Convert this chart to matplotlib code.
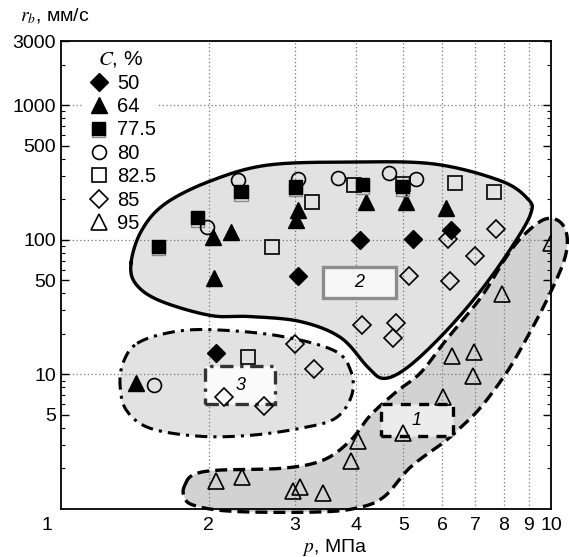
import numpy as np
import matplotlib
matplotlib.use("Agg")
import matplotlib.pyplot as plt
import matplotlib.patheffects as pe
from matplotlib.patches import Polygon, Rectangle
from matplotlib.transforms import ScaledTranslation

plt.rcParams['font.family'] = ['Liberation Sans', 'DejaVu Sans']
plt.rcParams['mathtext.fontset'] = 'stix'

# ---------------- data (p, MPa ; r_b, mm/s) ----------------
p_50 = [3.04, 4.07, 5.22, 6.25, 2.07]
r_50 = [54, 100, 101, 119, 14.3]

p_64 = [2.05, 2.04, 2.22, 3.04, 3.02, 4.20, 5.05, 6.10, 1.42]
r_64 = [52, 105, 115, 167, 141, 191, 191, 173, 8.7]

p_775 = [2.33, 3.01, 4.13, 1.90, 1.58, 4.98]
r_775 = [227, 247, 256, 146, 89, 248]

p_80 = [2.30, 3.05, 3.67, 4.66, 5.30, 1.99, 1.55]
r_80 = [278, 283, 288, 313, 283, 125, 8.4]

p_825 = [3.26, 2.70, 3.96, 6.36, 7.64, 2.41, 4.98]
r_825 = [191, 89, 256, 264, 227, 13.4, 262]

p_85 = [6.16, 7.72, 6.99, 5.12, 6.22, 4.11, 4.82, 4.75, 3.01, 3.28, 2.15, 2.60]
r_85 = [101, 121, 76, 54, 49.7, 23.1, 24.3, 18.5, 16.7, 10.9, 6.8, 5.8]

p_95 = [10.0, 7.94, 6.27, 6.96, 6.93, 6.02, 5.0, 4.03, 3.90, 2.07, 2.34, 2.98, 3.08, 3.42]
r_95 = [95, 39.8, 13.6, 14.6, 9.7, 6.8, 3.7, 3.2, 2.27, 1.61, 1.73, 1.36, 1.46, 1.31]

legend_labels = ['50', '64', '77.5', '80', '82.5', '85', '95']

# region outlines (control points, smoothed)
reg2_p = [1.39, 1.46, 1.63, 2.02, 2.64, 3.90, 5.77, 7.90, 8.97, 9.10, 8.40, 7.19,
          6.04, 5.10, 4.56, 4.23, 3.72, 3.08, 2.44, 2.02, 1.59, 1.42]
reg2_r = [67.6, 117, 185, 274, 359, 378, 366, 274, 201, 158, 93.4, 41.9,
          20.1, 11.3, 9.34, 11.3, 18.8, 24.7, 26.9, 27.4, 35.3, 47.2]

reg3_p = [1.43, 1.67, 2.02, 2.77, 3.60, 3.90, 3.92, 3.63, 3.08, 2.44, 1.92, 1.52, 1.36, 1.32, 1.34]
reg3_r = [17.0, 20.5, 21.5, 19.4, 15.1, 10.7, 7.0, 4.72, 3.98, 3.53, 3.47, 3.98, 5.41, 8.29, 12.3]

reg1_p = [1.79, 1.86, 2.08, 2.84, 3.43, 3.90, 4.28, 4.82, 5.42, 6.10, 7.19, 8.01, 8.68, 9.54,
          10.14, 10.6, 10.8, 10.6, 9.86, 9.10, 8.17, 7.19, 6.45, 6.04, 5.17, 4.56, 4.03, 3.34,
          2.25, 1.86, 1.78]
reg1_r = [1.51, 1.79, 1.94, 2.01, 2.31, 3.24, 4.97, 7.36, 10.3, 17.9, 37.2, 69.9, 103, 138,
          143, 127, 98.4, 67.6, 37.2, 21.2, 10.7, 5.7, 3.85, 3.13, 2.05, 1.23, 1.02, 0.95,
          0.96, 1.07, 1.27]

# label boxes: (p_min, p_max, r_min, r_max, text)
box1 = (4.49, 6.30, 3.47, 6.0, '1')
box2 = (3.42, 4.82, 37.2, 63.0, '2')
box3 = (1.97, 2.74, 6.0, 11.5, '3')

x_ticks = [1, 2, 3, 4, 5, 6, 7, 8, 9, 10]
y_ticks = [5, 10, 50, 100, 500, 1000, 3000]
y_grid = [10, 100, 1000]


def smooth_closed(xs, ys, n=24):
    P = np.column_stack([np.log10(xs), np.log10(ys)])
    N = len(P)
    t = np.linspace(0, 1, n, endpoint=False)[:, None]
    out = []
    for i in range(N):
        p0, p1, p2, p3 = P[i - 1], P[i], P[(i + 1) % N], P[(i + 2) % N]
        pts = 0.5 * ((2 * p1) + (-p0 + p2) * t + (2 * p0 - 5 * p1 + 4 * p2 - p3) * t ** 2
                     + (-p0 + 3 * p1 - 3 * p2 + p3) * t ** 3)
        out.append(pts)
    out = np.vstack(out + [out[0][:1]])
    return 10 ** out[:, 0], 10 ** out[:, 1]


fig = plt.figure(figsize=(5.69, 5.57), dpi=100)
ax = fig.add_axes([61 / 569, 1 - 509 / 557, 490 / 569, 468 / 557])
ax.set_xscale('log')
ax.set_yscale('log')
ax.set_xlim(1, 10)
ax.set_ylim(1, 3000)

# regions (fills above legend background, outlines on top)
for xs, ys, fc, ls, lw, zf in [(reg1_p, reg1_r, '#d2d2d2', (0, (3.6, 1.8)), 2.4, 0.65),
                               (reg3_p, reg3_r, '#e2e2e2', (0, (4, 2, 1, 2)), 2.2, 0.7),
                               (reg2_p, reg2_r, '#e2e2e2', '-', 2.4, 0.7)]:
    sx, sy = smooth_closed(xs, ys)
    poly = Polygon(np.column_stack([sx, sy]), closed=True, facecolor=fc, edgecolor='none',
                   zorder=zf, clip_on=False)
    ax.add_patch(poly)
    ax.plot(sx, sy, color='black', lw=lw, linestyle=ls, zorder=2.1, clip_on=False)

# grid
for xv in x_ticks[1:-1]:
    ax.axvline(xv, color='#777777', lw=0.9, linestyle=(0, (1, 2)), zorder=0.8)
for yv in y_grid:
    ax.axhline(yv, color='#777777', lw=0.9, linestyle=(0, (1, 2)),
               zorder=0.4 if yv == max(y_grid) else 0.8)

# label boxes
for (x0, x1, y0, y1, t), ec, ls, fc in [(box1, 'black', (0, (3, 2.5)), '#ececec'),
                                        (box2, '#8c8c8c', '-', '#f6f6f6'),
                                        (box3, '#333333', (0, (4, 2, 1, 2)), '#fafafa')]:
    r = Rectangle((x0, y0), x1 - x0, y1 - y0, facecolor=fc, edgecolor=ec, lw=2.4,
                  linestyle=ls, zorder=2.3)
    ax.add_patch(r)
    ax.text(np.sqrt(x0 * x1), np.sqrt(y0 * y1), t, ha='center', va='center',
            fontsize=13, style='italic', zorder=2.4)

# markers
shadow = [pe.SimpleLineShadow(offset=(0, -1.6), shadow_color='#8a8a8a', alpha=1), pe.Normal()]
h50, = ax.plot(p_50, r_50, 'D', ms=9, mfc='black', mec='black', ls='none', zorder=3)
h64, = ax.plot(p_64, r_64, '^', ms=11, mfc='black', mec='black', ls='none', zorder=3)
h775, = ax.plot(p_775, r_775, 's', ms=9.5, mfc='black', mec='black', ls='none', zorder=3,
                path_effects=shadow)
h80, = ax.plot(p_80, r_80, 'o', ms=10, mfc='none', mec='black', mew=1.2, ls='none', zorder=3)
h825, = ax.plot(p_825, r_825, 's', ms=10, mfc='none', mec='black', mew=1.2, ls='none', zorder=3)
h85, = ax.plot(p_85, r_85, 'D', ms=9, mfc='none', mec='black', mew=1.2, ls='none', zorder=3)
h95, = ax.plot(p_95, r_95, '^', ms=11, mfc='none', mec='black', mew=1.2, ls='none', zorder=3)

leg = ax.legend([h50, h64, h775, h80, h825, h85, h95], legend_labels,
                title=r'$C$, %', loc='upper left', bbox_to_anchor=(0.042, 0.989),
                frameon=True, fontsize=14.5, title_fontsize=15, handletextpad=0.2,
                handlelength=1.4, labelspacing=0.22, borderpad=0.05, borderaxespad=0.1)
leg.get_frame().set_edgecolor('none')
leg.get_frame().set_facecolor('white')
leg.get_frame().set_alpha(1)
leg.set_zorder(0.5)

# ticks
ax.set_xticks(x_ticks)
ax.set_xticklabels([str(v) for v in x_ticks])
ax.xaxis.set_minor_locator(matplotlib.ticker.NullLocator())
ax.set_yticks(y_ticks)
ax.set_yticklabels([str(v) for v in y_ticks])
ax.tick_params(axis='x', which='major', length=0, labelsize=14, pad=6)
ax.tick_params(axis='y', which='major', direction='in', length=6, width=1, labelsize=14,
               left=True, right=True)
ax.tick_params(axis='y', which='minor', direction='in', length=3, width=0.8,
               left=True, right=True, labelleft=False)
first = ax.get_xticklabels()[0]
first.set_transform(first.get_transform() + ScaledTranslation(-0.14, 0, fig.dpi_scale_trans))
for s in ax.spines.values():
    s.set_linewidth(1.3)
    s.set_zorder(5)

fig.text(20 / 569, 1 - 16 / 557, r'$r_b$' + ', мм/с', fontsize=14, va='center', ha='left')
fig.text(335 / 569, 1 - 547 / 557, r'$p$' + ', МПа', fontsize=14, va='center', ha='center')

fig.savefig('out.png', dpi=100)
